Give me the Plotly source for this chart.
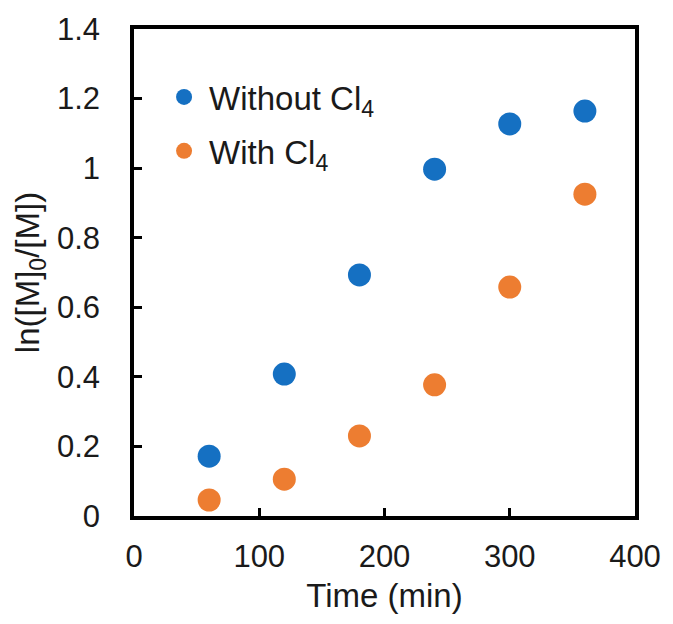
import plotly.graph_objects as go

# Reaction time (min) and first-order kinetic plot values
time_min = [60, 120, 180, 240, 300, 360]
without_cl4 = [0.172, 0.408, 0.693, 0.997, 1.127, 1.164]
with_cl4 = [0.046, 0.106, 0.230, 0.377, 0.658, 0.925]

x_ticks = [0, 100, 200, 300, 400]
y_ticks = [0, 0.2, 0.4, 0.6, 0.8, 1, 1.2, 1.4]
y_tick_text = ["0", "0.2", "0.4", "0.6", "0.8", "1", "1.2", "1.4"]

BLUE = "#1570c2"
ORANGE = "#ed7d31"
INK = "#1a1a1a"
FONT = "Liberation Sans, Arial, sans-serif"

fig = go.Figure()
fig.add_trace(go.Scatter(
    x=time_min, y=without_cl4, mode="markers", name="Without Cl<sub>4</sub>",
    legendgroup="a",
    marker=dict(size=23, color=BLUE, line=dict(width=0)),
))
fig.add_trace(go.Scatter(
    x=time_min, y=with_cl4, mode="markers", name="With Cl<sub>4</sub>",
    legendgroup="b",
    marker=dict(size=23, color=ORANGE, line=dict(width=0)),
))

axis_common = dict(
    showline=True, linecolor="black", linewidth=3.5, mirror=True,
    ticks="inside", ticklen=8, tickwidth=3, tickcolor="black",
    showgrid=False, zeroline=False,
    tickfont=dict(size=31, color=INK, family=FONT),
)

fig.update_layout(
    width=673, height=624,
    margin=dict(l=134, r=33, t=29, b=108),
    paper_bgcolor="white", plot_bgcolor="white",
    font=dict(family=FONT, color=INK),
    showlegend=True,
    legend=dict(
        x=0.05, y=0.918, xanchor="left", yanchor="top",
        font=dict(size=33, family=FONT, color=INK),
        tracegroupgap=8, itemsizing="trace", itemwidth=40,
        bgcolor="rgba(0,0,0,0)",
    ),
    xaxis=dict(
        range=[0, 400], tickvals=x_ticks, ticklabelstandoff=10, **axis_common,
        title=dict(text="Time (min)", font=dict(size=33, family=FONT, color=INK), standoff=12),
    ),
    yaxis=dict(
        range=[0, 1.4], tickvals=y_ticks, ticktext=y_tick_text, ticklabelstandoff=24,
        **axis_common,
        title=dict(text="ln([M]<sub>0</sub>/[M])", font=dict(size=33, family=FONT, color=INK), standoff=8),
    ),
)

fig.write_html("out.html")
